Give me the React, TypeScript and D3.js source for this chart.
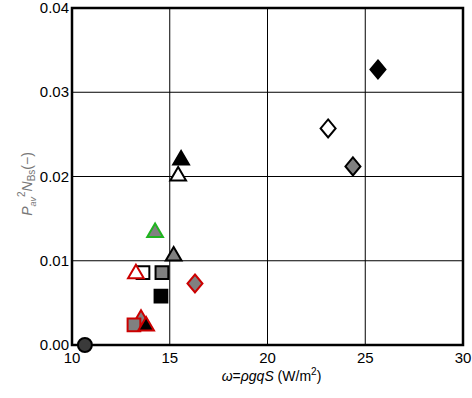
import { useEffect, useRef } from "react";
import * as d3 from "d3";

// points
const omega = [10.66, 25.65, 23.1, 24.37, 15.58, 15.43, 14.25, 15.2, 13.63, 13.27, 14.6, 16.29, 14.55, 13.53, 13.17, 13.79];
const pn = [0.0, 0.0327, 0.0257, 0.0212, 0.0221, 0.0202, 0.0135, 0.0107, 0.0086, 0.0086, 0.0086, 0.0073, 0.0058, 0.0032, 0.0024, 0.0024];
const shapes = ["circle", "diamond", "diamond", "diamond", "triangle", "triangle", "triangle", "triangle", "square", "triangle", "square", "diamond", "square", "triangle", "square", "triangle"];
const fills = ["#3a3a3a", "#000", "#fff", "#808080", "#000", "#fff", "#808080", "#808080", "#fff", "#fff", "#808080", "#808080", "#000", "#808080", "#808080", "#000"];
const strokes = ["#000", "#000", "#000", "#000", "#000", "#000", "#1fb41f", "#000", "#000", "#cc0000", "#000", "#cc0000", "#000", "#cc0000", "#cc0000", "#cc0000"];

const xTicks = [10, 15, 20, 25, 30];
const yTicks = [0, 0.01, 0.02, 0.03, 0.04];

const markerPath = (shape: string, r: number) => {
  const p = d3.path();
  if (shape === "circle") {
    p.arc(0, 0, r, 0, 2 * Math.PI);
  } else if (shape === "square") {
    p.rect(-r * 0.85, -r * 0.85, r * 1.7, r * 1.7);
  } else if (shape === "diamond") {
    p.moveTo(0, -r * 1.2); p.lineTo(r, 0); p.lineTo(0, r * 1.2); p.lineTo(-r, 0); p.closePath();
  } else {
    p.moveTo(0, -r * 1.05); p.lineTo(r * 1.05, r * 0.75); p.lineTo(-r * 1.05, r * 0.75); p.closePath();
  }
  return p.toString();
};

const App = () => {
  const ref = useRef<SVGSVGElement>(null);

  useEffect(() => {
    const svg = d3.select(ref.current);
    svg.selectAll("*").remove();
    const left = 72, right = 463, top = 8, bottom = 345;
    const x = d3.scaleLinear().domain([10, 30]).range([left, right]);
    const y = d3.scaleLinear().domain([0, 0.04]).range([bottom, top]);
    const font = "Liberation Sans, Arial, sans-serif";

    const g = svg.append("g");
    // grid
    g.selectAll(".vg").data(xTicks.slice(1, -1)).enter().append("line")
      .attr("x1", (d) => x(d)).attr("x2", (d) => x(d)).attr("y1", top).attr("y2", bottom)
      .attr("stroke", "#000").attr("stroke-width", 1);
    g.selectAll(".hg").data(yTicks.slice(1, -1)).enter().append("line")
      .attr("x1", left).attr("x2", right).attr("y1", (d) => y(d)).attr("y2", (d) => y(d))
      .attr("stroke", "#000").attr("stroke-width", 1);
    g.append("rect").attr("x", left).attr("y", top).attr("width", right - left).attr("height", bottom - top)
      .attr("fill", "none").attr("stroke", "#000").attr("stroke-width", 2.5);

    // tick labels
    g.selectAll(".xt").data(xTicks).enter().append("text")
      .attr("x", (d) => x(d)).attr("y", bottom + 18).attr("text-anchor", "middle")
      .style("font-family", font).style("font-size", "15px")
      .text((d) => d);
    g.selectAll(".yt").data(yTicks).enter().append("text")
      .attr("x", left - 3).attr("y", (d) => y(d) + 5).attr("text-anchor", "end")
      .style("font-family", font).style("font-size", "15px")
      .text((d) => d3.format(".2f")(d));

    // markers
    g.selectAll(".pt").data(omega).enter().append("path")
      .attr("transform", (d, i) => `translate(${x(d)},${y(pn[i])})`)
      .attr("d", (d, i) => markerPath(shapes[i], shapes[i] === "circle" ? 7 : 7.5))
      .attr("fill", (d, i) => fills[i]).attr("stroke", (d, i) => strokes[i])
      .attr("stroke-width", 2).attr("stroke-linejoin", "miter");

    // axis titles
    const xl = g.append("text").attr("x", (left + right) / 2 + 4).attr("y", 381).attr("text-anchor", "middle")
      .style("font-family", font).style("font-size", "14px");
    xl.append("tspan").style("font-style", "italic").text("ω");
    xl.append("tspan").text("=");
    xl.append("tspan").style("font-style", "italic").text("ρgqS");
    xl.append("tspan").text(" (W/m");
    xl.append("tspan").attr("dy", -6).style("font-size", "10px").text("2");
    xl.append("tspan").attr("dy", 6).text(")");

    const yl = g.append("text").attr("transform", "translate(32,184) rotate(-90)").attr("text-anchor", "middle")
      .attr("fill", "#777").style("font-family", font).style("font-size", "14px");
    yl.append("tspan").style("font-style", "italic").text("P");
    yl.append("tspan").attr("dy", 4).style("font-size", "9px").style("font-style", "italic").text("av");
    yl.append("tspan").attr("dy", -11).style("font-size", "10px").text("2");
    yl.append("tspan").attr("dy", 7).style("font-style", "italic").text("N");
    yl.append("tspan").attr("dy", 3).style("font-size", "10px").text("Bs");
    yl.append("tspan").attr("dy", -3).text("(−)");
  }, []);

  return <svg ref={ref} width={472} height={398} style={{ position: "absolute", left: 0, top: 0 }}></svg>;
};

export default App;
